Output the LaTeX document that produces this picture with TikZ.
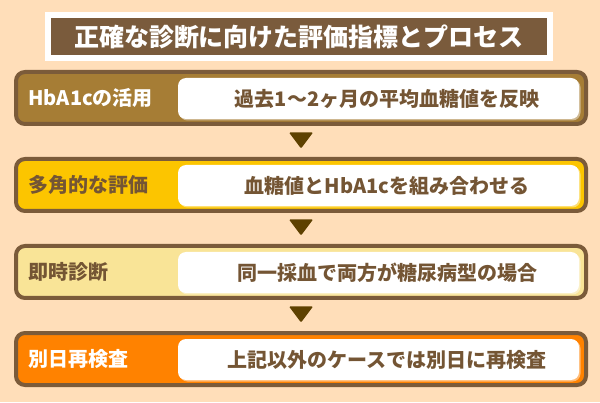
\documentclass[tikz,border=0pt]{standalone}
\usepackage{fontspec}
\setmainfont{Noto Sans CJK JP}
\usetikzlibrary{positioning,calc,shadows}

\definecolor{bgpeach}{HTML}{FFDEB9}
\definecolor{framebrown}{HTML}{7B5B3A}
\definecolor{titlebrown}{HTML}{7A5B3C}
\definecolor{textbrown}{HTML}{745534}
\definecolor{arrowbrown}{HTML}{5E4100}
\definecolor{stepone}{HTML}{A67D35}
\definecolor{steptwo}{HTML}{FCC500}
\definecolor{stepthree}{HTML}{F9E497}
\definecolor{stepfour}{HTML}{FF8200}

\begin{document}
\begin{tikzpicture}[
    box/.style={draw=framebrown, line width=4pt, rounded corners=9pt,
      minimum width=570pt, minimum height=52pt, inner sep=0pt, outer sep=0pt},
    inbox/.style={fill=white, rounded corners=8pt, minimum width=401pt,
      minimum height=41pt, inner sep=0pt, outer sep=0pt,
      drop shadow={shadow xshift=1.5pt, shadow yshift=-1.5pt, fill=white, opacity=.45}},
    lab/.style={font=\bfseries\fontsize{20pt}{24pt}\selectfont, anchor=west, inner sep=0pt},
    desc/.style={font=\bfseries\fontsize{20pt}{24pt}\selectfont, text=textbrown, inner sep=0pt},
    node distance=35pt]

    % Background
    \fill[bgpeach] (0,0) rectangle (600pt,402pt);
    \useasboundingbox (0,0) rectangle (600pt,402pt);

    % Nodes
    \node[draw=white, line width=6pt, fill=titlebrown, minimum width=502pt,
      minimum height=43pt, inner sep=0pt, outer sep=0pt, text=white,
      font=\bfseries\fontsize{25pt}{30pt}\selectfont] (title) at (299pt,365.5pt)
      {正確な診断に向けた評価指標とプロセス};

    \node[box, fill=stepone] (use) at (301pt,304pt) {};
    \node[box, fill=steptwo, below=of use] (multi) {};
    \node[box, fill=stepthree, below=of multi] (instant) {};
    \node[box, fill=stepfour, below=of instant] (retest) {};

    % White panels
    \node[inbox, anchor=east] (useW) at ([xshift=-7pt,yshift=-.5pt]use.east) {};
    \node[inbox, anchor=east] (multiW) at ([xshift=-7pt,yshift=-.5pt]multi.east) {};
    \node[inbox, anchor=east] (instantW) at ([xshift=-7pt,yshift=-.5pt]instant.east) {};
    \node[inbox, anchor=east] (retestW) at ([xshift=-7pt,yshift=-.5pt]retest.east) {};

    % Labels
    \node[lab, text=white] at ([xshift=12pt]use.west) {HbA1cの活用};
    \node[lab, text=textbrown] at ([xshift=12pt]multi.west) {多角的な評価};
    \node[lab, text=textbrown] at ([xshift=12pt]instant.west) {即時診断};
    \node[lab, text=white] at ([xshift=12pt]retest.west) {別日再検査};

    \node[desc] at ([xshift=8.5pt]useW.center) {過去1〜2ヶ月の平均血糖値を反映};
    \node[desc] at ([xshift=8.5pt]multiW.center) {血糖値とHbA1cを組み合わせる};
    \node[desc] at ([xshift=8.5pt]instantW.center) {同一採血で両方が糖尿病型の場合};
    \node[desc] at ([xshift=8.5pt]retestW.center) {上記以外のケースでは別日に再検査};

    % Arrows
    \fill[arrowbrown, rounded corners=1pt] ($(use.south)!0.5!(multi.north)$)
      ++(-12pt,9pt) -- ++(24pt,0) -- ++(-12pt,-16pt) -- cycle;
    \fill[arrowbrown, rounded corners=1pt] ($(multi.south)!0.5!(instant.north)$)
      ++(-12pt,9pt) -- ++(24pt,0) -- ++(-12pt,-16pt) -- cycle;
    \fill[arrowbrown, rounded corners=1pt] ($(instant.south)!0.5!(retest.north)$)
      ++(-12pt,9pt) -- ++(24pt,0) -- ++(-12pt,-16pt) -- cycle;
\end{tikzpicture}
\end{document}
